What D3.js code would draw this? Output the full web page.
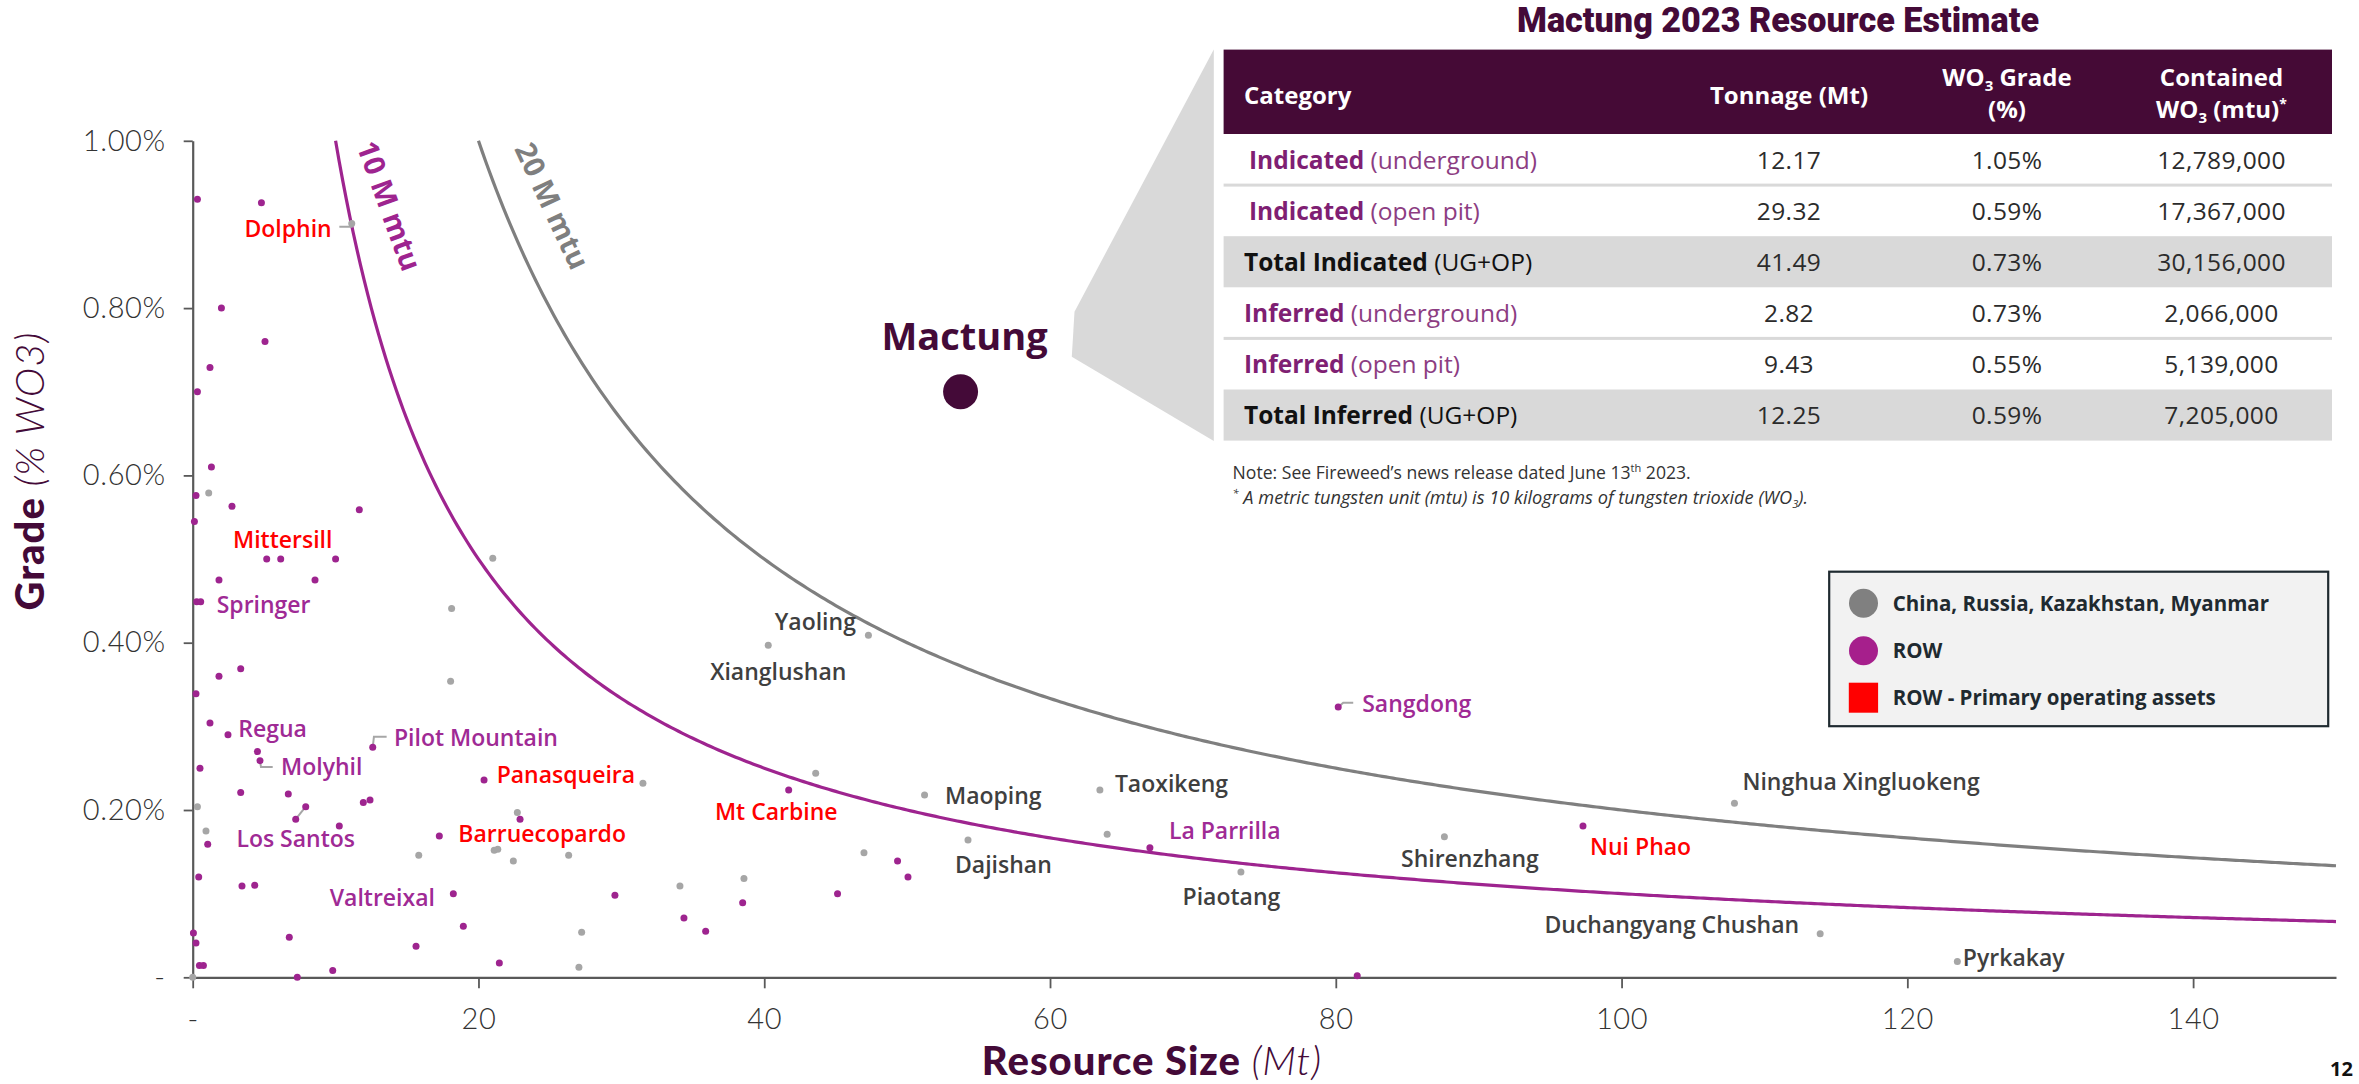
<!DOCTYPE html>
<html><head><meta charset="utf-8">
<script src="https://cdn.jsdelivr.net/npm/d3@7/dist/d3.min.js"></script>
<style>
html,body{margin:0;padding:0;background:#fff;overflow:hidden;}
svg{display:block;}
</style></head><body>
<svg id="chart" width="2359" height="1084"></svg>
<script>
// ---------------- DATA ----------------
const xTicks = [0, 20, 40, 60, 80, 100, 120, 140];
const yTicks = [0, 0.2, 0.4, 0.6, 0.8, 1.0];

// China, Russia, Kazakhstan, Myanmar deposits: [size Mt, grade %WO3, name]
const chinaPoints = [
  [0, 0, ""], [1.12, 0.579, ""], [21.0, 0.501, ""], [18.12, 0.441, ""], [18.05, 0.354, ""],
  [0.33, 0.204, ""], [22.72, 0.197, ""], [0.93, 0.175, ""], [15.82, 0.146, ""],
  [21.1, 0.152, ""], [21.35, 0.153, ""], [22.44, 0.139, ""], [26.31, 0.146, ""],
  [31.51, 0.232, ""], [43.6, 0.244, ""], [46.98, 0.149, ""], [38.58, 0.118, ""],
  [34.1, 0.109, ""], [27.22, 0.054, ""], [27.03, 0.012, ""], [64.0, 0.171, ""],
  [47.29, 0.409, "Yaoling"], [40.28, 0.397, "Xianglushan"], [51.22, 0.218, "Maoping"],
  [54.26, 0.164, "Dajishan"], [63.49, 0.224, "Taoxikeng"], [73.36, 0.126, "Piaotang"],
  [87.6, 0.168, "Shirenzhang"], [107.9, 0.208, "Ninghua Xingluokeng"],
  [113.9, 0.052, "Duchangyang Chushan"], [123.5, 0.019, "Pyrkakay"],
  [11.13, 0.901, "Dolphin"]
];

// Rest of world deposits
const rowPoints = [
  [0.33, 0.930, ""], [4.81, 0.926, ""], [2.01, 0.800, ""], [5.06, 0.760, ""], [1.21, 0.729, ""],
  [0.33, 0.700, ""], [1.31, 0.610, ""], [0.23, 0.576, ""], [2.75, 0.563, ""], [11.66, 0.559, ""],
  [0.12, 0.545, ""], [5.18, 0.500, ""], [6.16, 0.500, "Mittersill"], [10.0, 0.500, ""],
  [1.84, 0.475, ""], [8.56, 0.475, ""], [0.28, 0.449, ""], [0.56, 0.449, "Springer"],
  [3.36, 0.369, ""], [1.84, 0.360, ""], [0.23, 0.339, ""], [1.21, 0.304, ""],
  [2.47, 0.290, "Regua"], [4.53, 0.270, ""], [4.71, 0.259, "Molyhil"], [12.6, 0.275, "Pilot Mountain"],
  [0.51, 0.250, ""], [20.39, 0.236, "Panasqueira"], [3.36, 0.221, ""], [6.69, 0.219, ""],
  [7.91, 0.204, ""], [7.21, 0.189, "Los Santos"], [11.94, 0.209, ""], [12.41, 0.212, ""],
  [22.91, 0.189, ""], [10.26, 0.181, ""], [1.05, 0.159, ""], [17.26, 0.169, "Barruecopardo"],
  [0.42, 0.120, ""], [3.45, 0.109, ""], [4.34, 0.110, ""], [18.24, 0.100, "Valtreixal"],
  [18.94, 0.061, ""], [0.05, 0.053, ""], [0.23, 0.041, ""], [6.76, 0.048, ""], [15.63, 0.037, ""],
  [0.47, 0.014, ""], [0.75, 0.014, ""], [9.8, 0.008, ""], [21.46, 0.017, ""], [7.32, 0.0, ""],
  [41.71, 0.224, "Mt Carbine"], [49.33, 0.139, ""], [50.06, 0.120, ""], [29.55, 0.098, ""],
  [38.49, 0.089, ""], [45.13, 0.100, ""], [34.38, 0.071, ""], [35.9, 0.055, ""],
  [66.99, 0.155, "La Parrilla"], [80.17, 0.323, "Sangdong"], [81.5, 0.002, ""], [97.3, 0.181, "Nui Phao"]
];

// ROW primary operating assets (labelled in red)
const primaryAssets = ["Dolphin", "Mittersill", "Panasqueira", "Barruecopardo", "Mt Carbine", "Nui Phao"];

const mactungName = "Mactung";
const mactungSize = 53.74;   // 41.49 + 12.25 Mt
const mactungGrade = 0.70;

const isoMtu = [10, 20];               // million mtu contours: grade = mtu / size
const isoLabels = ["10 M mtu", "20 M mtu"];

const legendLabels = ["China, Russia, Kazakhstan, Myanmar", "ROW", "ROW - Primary operating assets"];

const tableTitle = "Mactung 2023 Resource Estimate";
const tableCatBold = ["Indicated", "Indicated", "Total Indicated", "Inferred", "Inferred", "Total Inferred"];
const tableCatRest = ["(underground)", "(open pit)", "(UG+OP)", "(underground)", "(open pit)", "(UG+OP)"];
const tableTonnage = ["12.17", "29.32", "41.49", "2.82", "9.43", "12.25"];
const tableGrade = ["1.05%", "0.59%", "0.73%", "0.73%", "0.55%", "0.59%"];
const tableContained = ["12,789,000", "17,367,000", "30,156,000", "2,066,000", "5,139,000", "7,205,000"];
const tableIsTotal = [false, false, true, false, false, true];

// ---------------- LAYOUT (label placement relative to the point, px) ----------------
const labelLayout = {
  "Yaoling": {dx: -12.5, dy: -13.5, a: "end"},
  "Xianglushan": {dx: 10, dy: 26.5, a: "middle"},
  "Maoping": {dx: 20.4, dy: 1, a: "start"},
  "Dajishan": {dx: -13, dy: 25, a: "start"},
  "Taoxikeng": {dx: 15, dy: -6, a: "start"},
  "Piaotang": {dx: -9.5, dy: 25.3, a: "middle"},
  "Shirenzhang": {dx: 25.5, dy: 22, a: "middle"},
  "Ninghua Xingluokeng": {dx: 8, dy: -22, a: "start"},
  "Duchangyang Chushan": {dx: -21, dy: -9, a: "end"},
  "Pyrkakay": {dx: 5.5, dy: -3.5, a: "start"},
  "Dolphin": {dx: -20, dy: 4.7, a: "end", leader: [[-12.4, 3.1], [0, 3.1], [0, 0]]},
  "Springer": {dx: 16, dy: 3.3, a: "start"},
  "Regua": {dx: 10.3, dy: -6.4, a: "start"},
  "Molyhil": {dx: 21, dy: 6.4, a: "start", leader: [[0, 0], [1, 6.4], [12.7, 6.4]]},
  "Pilot Mountain": {dx: 21.2, dy: -10, a: "start", leader: [[0, 0], [1.2, -10.6], [13.9, -10.6]]},
  "Panasqueira": {dx: 12.6, dy: -5.6, a: "start"},
  "Los Santos": {dx: 0, dy: 20, a: "middle", leader: [[0, 0], [10, -12.5]]},
  "Barruecopardo": {dx: 19, dy: -2.6, a: "start"},
  "Valtreixal": {dx: -18.4, dy: 4, a: "end"},
  "Mt Carbine": {dx: -12.4, dy: 21.8, a: "middle"},
  "La Parrilla": {dx: 19, dy: -17, a: "start"},
  "Sangdong": {dx: 24, dy: -3, a: "start", leader: [[0, 0], [5, -4.4], [15, -4.4]]},
  "Nui Phao": {dx: 7, dy: 21, a: "start"},
  "Mittersill": {dx: 2, dy: -19.7, a: "middle"}
};

// ---------------- STYLE ----------------
const FONT = "'Open Sans', Lato, sans-serif";
const TICKFONT = "Lato, 'Open Sans', sans-serif";
const TFONT = "'Open Sans', Roboto, sans-serif";
const C = {
  dark: "#440a38", purple: "#9e248f", purpleLabel: "#9f2a95", greyDot: "#a6a6a6",
  greyLine: "#7f7f7f", label: "#3f3f3f", red: "#ff0000", axis: "#595959", tick: "#333333"
};

const svg = d3.select("#chart");
const x = d3.scaleLinear().domain([0, 150]).range([192.7, 2336]);
const y = d3.scaleLinear().domain([0, 1]).range([977.3, 140.8]);

// ---------------- CALLOUT + TABLE ----------------
const tblL = 1223.6, tblR = 2332;
const headTop = 49.6, headBot = 134, rowH = 51.1;
svg.append("polygon")
  .attr("points", [[1213.8, 49.5], [1213.8, 441], [1071.8, 356.7], [1074.5, 311.7]].map(p => p.join(",")).join(" "))
  .attr("fill", "#d9d9d9");

svg.append("text").attr("x", 1778).attr("y", 32).attr("text-anchor", "middle")
  .attr("font-family", "Roboto, sans-serif").attr("font-weight", 900).attr("font-size", 35)
  .attr("textLength", 522).attr("lengthAdjust", "spacingAndGlyphs")
  .attr("fill", C.dark).text(tableTitle);

svg.append("rect").attr("x", tblL).attr("y", headTop).attr("width", tblR - tblL).attr("height", headBot - headTop).attr("fill", "#450a36");
const colX = [1244, 1789, 2007, 2221.5];
const hdr = svg.append("g").attr("font-family", TFONT).attr("font-weight", 700).attr("font-size", 24).attr("fill", "#fff");
hdr.append("text").attr("x", colX[0]).attr("y", 104).text("Category");
hdr.append("text").attr("x", colX[1]).attr("y", 104).attr("text-anchor", "middle").text("Tonnage (Mt)");
let t = hdr.append("text").attr("x", colX[2]).attr("y", 86).attr("text-anchor", "middle");
t.append("tspan").text("WO");
t.append("tspan").attr("font-size", 15).attr("dy", 5).text("3");
t.append("tspan").attr("dy", -5).text(" Grade");
hdr.append("text").attr("x", colX[2]).attr("y", 118).attr("text-anchor", "middle").text("(%)");
hdr.append("text").attr("x", colX[3]).attr("y", 86).attr("text-anchor", "middle").text("Contained");
t = hdr.append("text").attr("x", colX[3]).attr("y", 118).attr("text-anchor", "middle");
t.append("tspan").text("WO");
t.append("tspan").attr("font-size", 15).attr("dy", 5).text("3");
t.append("tspan").attr("dy", -5).text(" (mtu)");
t.append("tspan").attr("font-size", 14).attr("dy", -9).text("*");

tableCatBold.forEach((b, i) => {
  const top = headBot + i * rowH;
  if (tableIsTotal[i]) svg.append("rect").attr("x", tblL).attr("y", top).attr("width", tblR - tblL).attr("height", rowH).attr("fill", "#d9d9d9");
  const cy = top + rowH / 2 + 9;
  const g = svg.append("g").attr("font-family", TFONT).attr("font-size", 24.5);
  const tx = g.append("text").attr("x", (i < 2) ? 1249 : 1244).attr("y", cy);
  const bcol = tableIsTotal[i] ? "#111" : "#7f1f73";
  const rcol = tableIsTotal[i] ? "#111" : "#8c3d82";
  tx.append("tspan").attr("font-weight", 700).attr("fill", bcol).text(b);
  tx.append("tspan").attr("font-weight", 400).attr("fill", rcol).text(" " + tableCatRest[i]);
  [tableTonnage[i], tableGrade[i], tableContained[i]].forEach((v, j) => {
    g.append("text").attr("x", colX[j + 1]).attr("y", cy).attr("text-anchor", "middle")
      .attr("font-weight", 400).attr("fill", "#2b2b2b").attr("letter-spacing", 0.4).text(v);
  });
});
[headBot + rowH, headBot + 4 * rowH].forEach(yy => {
  svg.append("rect").attr("x", tblL).attr("y", yy - 1.5).attr("width", tblR - tblL).attr("height", 3).attr("fill", "#d9d9d9");
});

const note = svg.append("g").attr("font-family", TFONT).attr("fill", "#333");
t = note.append("text").attr("x", 1232.6).attr("y", 479).attr("font-size", 17.6);
t.append("tspan").text("Note: See Fireweed\u2019s news release dated June 13");
t.append("tspan").attr("font-size", 11).attr("dy", -7).text("th");
t.append("tspan").attr("dy", 7).text(" 2023.");
t = note.append("text").attr("x", 1232.6).attr("y", 504).attr("font-style", "italic").attr("font-size", 18.2);
t.append("tspan").attr("font-size", 11).attr("dy", -7).text("*");
t.append("tspan").attr("dy", 7).text(" A metric tungsten unit (mtu) is 10 kilograms of tungsten trioxide (WO");
t.append("tspan").attr("font-size", 11).attr("dy", 4).text("3");
t.append("tspan").attr("dy", -4).text(").");

// ---------------- AXES ----------------
const yAxis = d3.axisLeft(y).tickValues(yTicks).tickSize(9).tickSizeOuter(0).tickPadding(18)
  .tickFormat(d => d === 0 ? "-" : d3.format(".2f")(d) + "%");
const xAxis = d3.axisBottom(x).tickValues(xTicks).tickSize(11).tickSizeOuter(0).tickPadding(20)
  .tickFormat(d => d === 0 ? "-" : d);
const gy = svg.append("g").attr("transform", `translate(${x(0)},0)`).call(yAxis);
const gx = svg.append("g").attr("transform", `translate(0,${y(0)})`).call(xAxis);
[gx, gy].forEach(g => {
  g.select(".domain").attr("stroke", C.axis).attr("stroke-width", 2.2);
  g.selectAll(".tick line").attr("stroke", C.axis).attr("stroke-width", 1.8);
  g.selectAll(".tick text").attr("font-family", TICKFONT).attr("font-weight", 300)
    .attr("font-size", 29).attr("fill", C.tick).attr("letter-spacing", 0.6);
});

// axis titles
const TITLEFONT = "Lato, 'Open Sans', sans-serif";
t = svg.append("text").attr("transform", "translate(44,471) rotate(-90)").attr("text-anchor", "middle")
  .attr("font-family", TITLEFONT).attr("font-size", 40).attr("letter-spacing", 1).attr("fill", C.dark);
t.append("tspan").attr("font-weight", 900).text("Grade ");
t.append("tspan").attr("font-weight", 300).attr("font-style", "italic").text("(% WO3)");
t = svg.append("text").attr("x", 1152).attr("y", 1075).attr("text-anchor", "middle")
  .attr("font-family", TITLEFONT).attr("font-size", 40).attr("letter-spacing", 1).attr("fill", C.dark);
t.append("tspan").attr("font-weight", 900).text("Resource Size ");
t.append("tspan").attr("font-weight", 300).attr("font-style", "italic").text("(Mt)");

// ---------------- ISO-MTU CURVES ----------------
const isoCol = [C.purple, C.greyLine];
isoMtu.forEach((m, i) => {
  const pts = d3.range(m, 150.01, 0.25).map(s => [s, m / s]);
  svg.append("path").datum(pts)
    .attr("d", d3.line().x(d => x(d[0])).y(d => y(d[1])))
    .attr("fill", "none").attr("stroke", isoCol[i]).attr("stroke-width", 3.2);
});
const isoLabelPos = [[389, 206, 70], [552, 206, 65]];
isoLabels.forEach((l, i) => {
  const p = isoLabelPos[i];
  svg.append("text").attr("transform", `translate(${p[0]},${p[1]}) rotate(${p[2]})`)
    .attr("text-anchor", "middle").attr("dy", "0.35em")
    .attr("font-family", FONT).attr("font-weight", 700).attr("font-size", 29)
    .attr("fill", isoCol[i]).text(l);
});

// ---------------- POINTS ----------------
const leaderG = svg.append("g");
const dotG = svg.append("g");
const labG = svg.append("g").attr("font-family", FONT).attr("font-weight", 600).attr("font-size", 23);

function drawSet(points, fill, labelColor) {
  dotG.selectAll(null).data(points).enter().append("circle")
    .attr("cx", d => x(d[0])).attr("cy", d => y(d[1])).attr("r", 3.5).attr("fill", fill);
  points.filter(d => d[2] && labelLayout[d[2]]).forEach(d => {
    const L = labelLayout[d[2]], px = x(d[0]), py = y(d[1]);
    if (L.leader) {
      leaderG.append("path").attr("d", d3.line()(L.leader.map(q => [px + q[0], py + q[1]])))
        .attr("fill", "none").attr("stroke", "#a6a6a6").attr("stroke-width", 2);
    }
    labG.append("text").attr("x", px + L.dx).attr("y", py + L.dy).attr("dy", "0.36em")
      .attr("text-anchor", L.a)
      .attr("fill", primaryAssets.includes(d[2]) ? C.red : labelColor).text(d[2]);
  });
}
drawSet(chinaPoints, C.greyDot, C.label);
drawSet(rowPoints, C.purple, C.purpleLabel);

// Mactung
svg.append("circle").attr("cx", x(mactungSize)).attr("cy", y(mactungGrade)).attr("r", 17.5).attr("fill", C.dark);
svg.append("text").attr("x", x(mactungSize) + 4).attr("y", y(mactungGrade) - 42)
  .attr("text-anchor", "middle").attr("font-family", FONT).attr("font-weight", 700)
  .attr("font-size", 38).attr("fill", C.dark).text(mactungName);

// ---------------- LEGEND ----------------
const lg = svg.append("g");
lg.append("rect").attr("x", 1829.2).attr("y", 571.7).attr("width", 499).attr("height", 154.5)
  .attr("fill", "#f2f2f2").attr("stroke", "#1f2a30").attr("stroke-width", 2.2);
const legY = [603.3, 650.7, 697.7];
lg.append("circle").attr("cx", 1863.5).attr("cy", legY[0]).attr("r", 14.5).attr("fill", "#808080");
lg.append("circle").attr("cx", 1863.5).attr("cy", legY[1]).attr("r", 14.5).attr("fill", "#a61f8c");
lg.append("rect").attr("x", 1848.8).attr("y", legY[2] - 15).attr("width", 29.3).attr("height", 30).attr("fill", "#ff0000");
legendLabels.forEach((l, i) => {
  lg.append("text").attr("x", 1892.7).attr("y", legY[i]).attr("dy", "0.36em")
    .attr("font-family", FONT).attr("font-weight", 700).attr("font-size", 20.5)
    .attr("fill", "#1f2a30").text(l);
});

// page number
svg.append("text").attr("x", 2330).attr("y", 1076).attr("font-family", FONT)
  .attr("font-weight", 700).attr("font-size", 20).attr("fill", "#111").text("12");
</script>
</body></html>
